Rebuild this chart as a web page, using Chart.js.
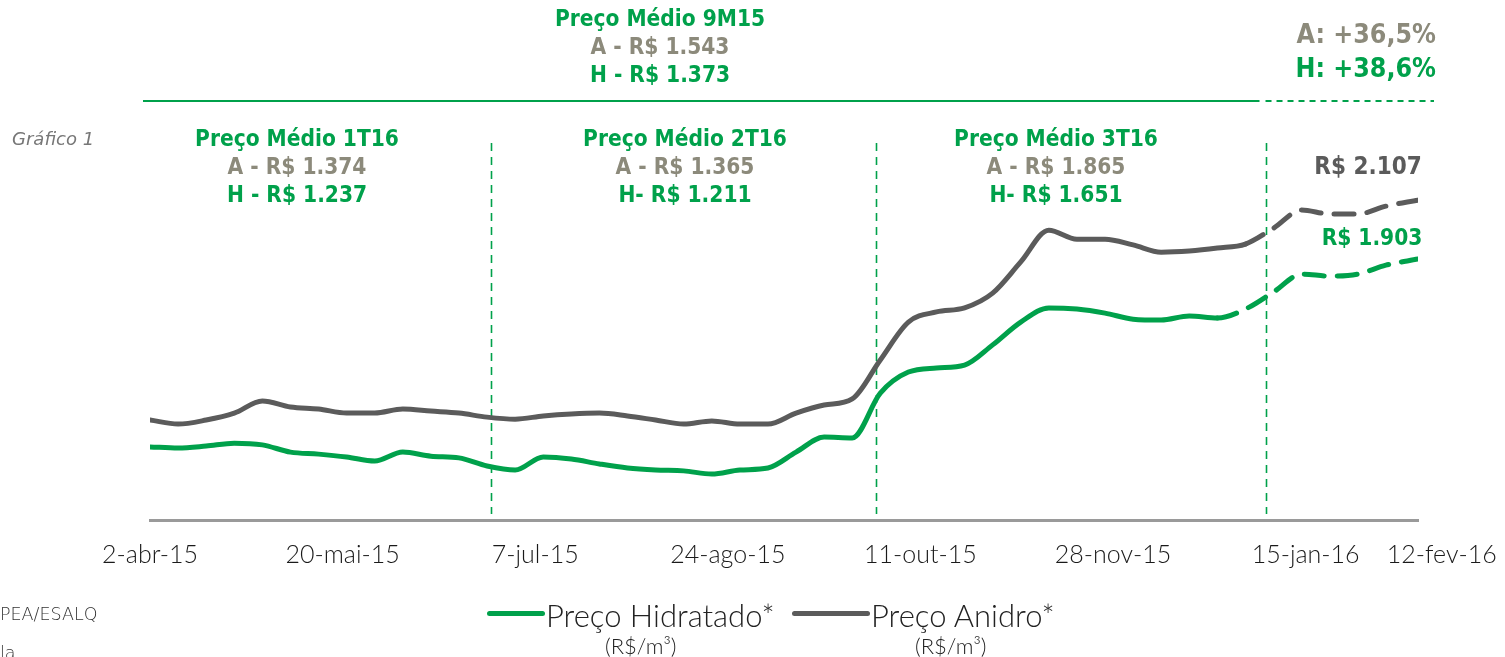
<!DOCTYPE html>
<html>
<head>
<meta charset="utf-8">
<script src="https://cdn.jsdelivr.net/npm/chart.js@4.4.0/dist/chart.umd.min.js"></script>
<style>
html, body { margin: 0; padding: 0; background: #fff; overflow: hidden; }
#wrap { position: relative; width: 1505px; height: 657px; }
#chart { position: absolute; left: 0; top: 0; }
.t { position: absolute; white-space: nowrap; transform: translate(-50%, -50%);
     font-family: "DejaVu Sans Condensed", "DejaVu Sans", sans-serif; font-stretch: condensed;
     font-weight: bold; font-size: 22.5px; line-height: 1; }
.g { color: #00a14b; }
.k { color: #8c8a7b; }
.d { color: #5b5b5b; font-size: 24px; }
.r { transform: translate(-100%, -50%); font-size: 26.5px; }
.note { position: absolute; white-space: nowrap; font-family: "DejaVu Sans", sans-serif; font-weight: 200; color: #555; }
.leg { position: absolute; white-space: nowrap; font-family: Lato, "DejaVu Sans", sans-serif; font-weight: 300; color: #222; }
.leg .mk { position: absolute; height: 5px; border-radius: 3px; }
</style>
</head>
<body>
<div id="wrap">
  <canvas id="chart" width="1505" height="657"></canvas>
</div>
<script>
// ── Data ─────────────────────────────────────────────
// days since 2-abr-15, weekly
const days = [0, 7, 14, 21, 28, 35, 42, 49, 56, 63, 70, 77, 84, 91, 98, 105, 112, 119, 126, 133,
              140, 147, 154, 161, 168, 175, 182, 189, 196, 203, 210, 217, 224, 231, 238, 245, 252,
              259, 266, 273, 280, 287, 294, 301, 308, 316];

const anidro = [1346, 1332, 1346, 1370, 1412, 1391, 1384, 1370, 1370, 1384, 1377, 1370, 1356, 1349,
                1360, 1367, 1370, 1360, 1346, 1332, 1343, 1332, 1332, 1370, 1398, 1419, 1554, 1685,
                1720, 1734, 1785, 1893, 2003, 1972, 1972, 1952, 1927, 1931, 1941, 1955, 2010, 2073,
                2059, 2059, 2086, 2107];

const hidratado = [1253, 1249, 1256, 1266, 1260, 1235, 1228, 1218, 1204, 1235, 1221, 1215, 1187, 1173,
                   1218, 1211, 1194, 1180, 1173, 1170, 1159, 1173, 1180, 1235, 1287, 1284, 1439, 1512,
                   1526, 1536, 1606, 1685, 1734, 1730, 1716, 1695, 1692, 1706, 1699, 1730, 1789, 1851,
                   1844, 1851, 1882, 1903];

const tickDays = [0, 48, 96, 144, 192, 240, 288, 316];
const tickLabels = ['2-abr-15', '20-mai-15', '7-jul-15', '24-ago-15', '11-out-15', '28-nov-15', '15-jan-16', '12-fev-16'];

const quarterDays = [85, 181, 278];     // quarter dividers
const seriesNames = ['Preço Hidratado*', 'Preço Anidro*'];
const seriesUnits = ['(R$/m³)', '(R$/m³)'];
const dashFrom = [266, 273];            // estimated part starts here

const GREEN = '#00a14b';
const GRAY = '#5b5b5b';

// ── Annotations (HTML text) ──────────────────────────
const labels = [
    ['Preço Médio 9M15', 660, 18, 'g'], ['A - R$ 1.543', 660, 46, 'k'], ['H - R$ 1.373', 660, 74, 'g'],
    ['Preço Médio 1T16', 297, 138, 'g'], ['A - R$ 1.374', 297, 166, 'k'], ['H - R$ 1.237', 297, 194, 'g'],
    ['Preço Médio 2T16', 685, 138, 'g'], ['A - R$ 1.365', 685, 166, 'k'], ['H- R$ 1.211', 685, 194, 'g'],
    ['Preço Médio 3T16', 1056, 138, 'g'], ['A - R$ 1.865', 1056, 166, 'k'], ['H- R$ 1.651', 1056, 194, 'g'],
    ['R$ 2.107', 1368, 166, 'd'], ['R$ 1.903', 1372, 237, 'g'],
    ['A: +36,5%', 1436, 34, 'k r'], ['H: +38,6%', 1436, 68, 'g r'],
];

const wrap = document.getElementById('wrap');
labels.forEach(([txt, x, y, cls]) => {
    const el = document.createElement('div');
    el.className = 't ' + cls;
    el.style.left = x + 'px';
    el.style.top = y + 'px';
    el.textContent = txt;
    wrap.appendChild(el);
});

function addNote(txt, x, y, css) {
    const el = document.createElement('div');
    el.className = 'note';
    el.style.left = x + 'px';
    el.style.top = y + 'px';
    Object.assign(el.style, css || {});
    el.textContent = txt;
    wrap.appendChild(el);
}
addNote('Gráfico 1', 12, 128, { fontStyle: 'italic', fontSize: '18px', color: '#777' });
addNote('PEA/ESALQ', 0, 604, { fontSize: '17.5px', color: '#333' });
addNote('la', 0, 643, { fontSize: '17.5px', color: '#333' });

// legend
const legendX = [487, 792];
[GREEN, GRAY].forEach((c, i) => {
    const box = document.createElement('div');
    box.className = 'leg';
    box.style.left = legendX[i] + 'px';
    box.style.top = '596px';
    box.innerHTML = '<span class="mk" style="left:0;top:15px;width:' + (i ? 78 : 58) + 'px;background:' + c + '"></span>' +
        '<span style="position:absolute;left:' + (i ? 79 : 59) + 'px;top:0;font-size:31px">' + seriesNames[i] + '</span>' +
        '<span style="position:absolute;left:' + (i ? 123 : 118) + 'px;top:36px;font-size:22px">' + seriesUnits[i] + '</span>';
    wrap.appendChild(box);
});

// ── Guides: quarter dividers + top bar ───────────────
const guides = {
    id: 'guides',
    beforeDatasetsDraw(chart) {
        const { ctx, chartArea, scales: { x } } = chart;
        ctx.save();
        ctx.strokeStyle = GREEN;
        ctx.lineWidth = 1.6;
        ctx.setLineDash([8, 6]);
        quarterDays.forEach(d => {
            const px = Math.round(x.getPixelForValue(d)) + 0.5;
            ctx.beginPath();
            ctx.moveTo(px, chartArea.top + 42);
            ctx.lineTo(px, chartArea.bottom - 6);
            ctx.stroke();
        });
        const split = x.getPixelForValue(quarterDays[2]);
        ctx.lineWidth = 2.2;
        ctx.setLineDash([]);
        ctx.beginPath();
        ctx.moveTo(chartArea.left - 7, chartArea.top);
        ctx.lineTo(split - 6, chartArea.top);
        ctx.stroke();
        ctx.setLineDash([6, 5]);
        ctx.beginPath();
        ctx.moveTo(split, chartArea.top);
        ctx.lineTo(chartArea.right + 16, chartArea.top);
        ctx.stroke();
        ctx.restore();
    }
};

function makeSet(name, values, color, from) {
    return {
        label: name,
        data: values.map((v, i) => ({ x: days[i], y: v })),
        borderColor: color,
        borderWidth: 5,
        borderCapStyle: 'round',
        pointRadius: 0,
        cubicInterpolationMode: 'monotone',
        segment: {
            borderDash: c => c.p0.parsed.x >= from ? [20, 13] : undefined
        }
    };
}

new Chart(document.getElementById('chart'), {
    type: 'line',
    data: {
        datasets: [
            makeSet(seriesNames[1], anidro, GRAY, dashFrom[1]),
            makeSet(seriesNames[0], hidratado, GREEN, dashFrom[0])
        ]
    },
    options: {
        responsive: false,
        animation: false,
        layout: { padding: { left: 150, right: 87, top: 101, bottom: 0 } },
        plugins: { legend: { display: false }, tooltip: { enabled: false } },
        scales: {
            x: {
                type: 'linear',
                min: 0,
                max: 316,
                afterFit: s => { s.height = 137; s.paddingLeft = 0; s.paddingRight = 0; },
                afterBuildTicks: s => { s.ticks = tickDays.map(v => ({ value: v })); },
                grid: { display: false, drawTicks: false },
                border: { display: true, color: '#9a9a9a', width: 3 },
                ticks: {
                    autoSkip: false,
                    maxRotation: 0,
                    padding: 20,
                    color: '#1a1a1a',
                    font: { family: 'Lato', size: 25, weight: 300 },
                    callback: (v, i) => i === tickLabels.length - 1 ? '\u00a0\u00a0\u00a0\u00a0\u00a0\u00a0\u00a0' + tickLabels[i] : tickLabels[i]
                }
            },
            y: {
                display: false,
                min: 1000,
                max: 2450
            }
        }
    },
    plugins: [guides]
});
</script>
</body>
</html>
